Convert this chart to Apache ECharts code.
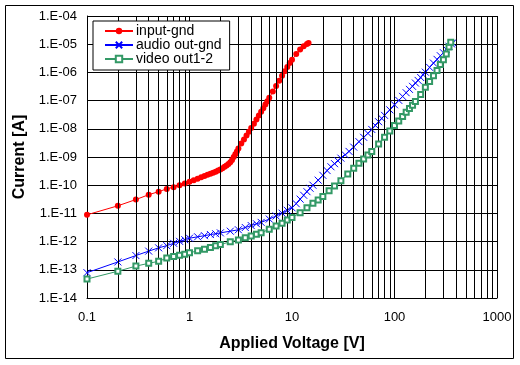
<!DOCTYPE html>
<html><head><meta charset="utf-8">
<script src="https://cdn.jsdelivr.net/npm/echarts@6/dist/echarts.min.js"></script>
<style>html,body{margin:0;padding:0;background:#fff}#c{width:520px;height:365px}</style>
</head><body><div id="c"></div>
<script>
const seriesNames = ['input-gnd', 'audio out-gnd', 'video out1-2'];
const xTickLabels = ['0.1', '1', '10', '100', '1000'];
const yTickLabels = ['1.E-14','1.E-13','1.E-12','1.E-11','1.E-10','1.E-09','1.E-08','1.E-07','1.E-06','1.E-05','1.E-04'];
const xMinorGrid = [0.2,0.3,0.4,0.5,0.6,0.7,0.8,0.9,2,3,4,5,6,7,8,9,20,30,40,50,60,70,80,90,200,300,400,500,600,700,800,900];

const inputX = [0.1,0.2,0.3,0.4,0.5,0.6,0.7,0.8,0.9,1.0,1.1,1.2,1.3,1.4,1.5,1.6,1.7,1.8,1.9,2.0,2.1,2.2,2.3,2.4,2.5,2.6,2.7,2.8,2.9,3.0,3.2,3.4,3.6,3.8,4.0,4.25,4.5,4.75,5.0,5.25,5.5,5.75,6.0,6.5,7.0,7.5,8.0,8.5,9.0,9.5,10,11,12,13,14,14.5];
const inputY = [8.9e-12,1.86e-11,3.1e-11,4.6e-11,5.9e-11,7.4e-11,8.5e-11,1.0e-10,1.15e-10,1.32e-10,1.51e-10,1.7e-10,1.9e-10,2.14e-10,2.34e-10,2.57e-10,2.75e-10,3.0e-10,3.3e-10,3.6e-10,4.0e-10,4.5e-10,5.0e-10,5.6e-10,6.5e-10,7.9e-10,1.0e-9,1.26e-9,1.58e-9,2.0e-9,3.0e-9,4.2e-9,5.8e-9,7.9e-9,1.07e-8,1.51e-8,2.14e-8,2.95e-8,4.0e-8,5.4e-8,7.2e-8,9.5e-8,1.26e-7,2.1e-7,3.3e-7,5.1e-7,7.6e-7,1.1e-6,1.55e-6,2.14e-6,2.8e-6,4.5e-6,6.5e-6,8.5e-6,1.02e-5,1.1e-5];

const audioX = [0.1,0.2,0.3,0.4,0.5,0.6,0.7,0.8,0.9,1.0,1.2,1.4,1.6,1.8,2.0,2.5,3.0,3.5,4.0,4.5,5.0,6.0,7.0,8.0,9.0,10,11,12,13,14,15,16,18,20,22,24,26,28,30,33,36,40,45,50,55,60,65,70,75,80,90,100,110,120,130,140,150,160,170,180,190,200,220,240,260,280,300,320,340,360,370];
const audioY = [7.9e-14,1.9e-13,3.2e-13,4.6e-13,6.0e-13,7.2e-13,8.7e-13,1.02e-12,1.17e-12,1.32e-12,1.48e-12,1.62e-12,1.78e-12,1.9e-12,2.04e-12,2.34e-12,2.63e-12,3.16e-12,3.7e-12,4.3e-12,4.8e-12,6.3e-12,8.1e-12,1.02e-11,1.29e-11,1.58e-11,2.2e-11,3.2e-11,4.4e-11,5.9e-11,7.8e-11,1.0e-10,1.51e-10,2.24e-10,3.3e-10,4.5e-10,5.8e-10,7.4e-10,9.1e-10,1.2e-9,1.58e-9,2.24e-9,3.5e-9,5.0e-9,6.9e-9,9.5e-9,1.32e-8,1.78e-8,2.34e-8,3.0e-8,4.7e-8,7.1e-8,1.02e-7,1.41e-7,1.9e-7,2.5e-7,3.2e-7,4.2e-7,5.2e-7,6.6e-7,8.3e-7,1.02e-6,1.51e-6,2.14e-6,2.9e-6,3.9e-6,5.0e-6,6.6e-6,8.5e-6,1.02e-5,1.12e-5];

const videoX = [0.1,0.2,0.3,0.4,0.5,0.6,0.7,0.8,0.9,1.0,1.2,1.4,1.6,1.8,2.0,2.5,3.0,3.5,4.0,4.5,5.0,6.0,7.0,8.0,9.0,10,12,14,16,18,20,23,26,30,35,40,45,50,55,60,70,80,90,100,110,120,130,140,150,160,180,200,220,240,260,280,300,320,340,354];
const videoY = [4.7e-14,8.9e-14,1.35e-13,1.7e-13,2.0e-13,2.6e-13,2.95e-13,3.3e-13,3.55e-13,4.0e-13,4.7e-13,5.4e-13,6.2e-13,7.1e-13,7.9e-13,9.8e-13,1.15e-12,1.38e-12,1.58e-12,1.82e-12,2.04e-12,2.75e-12,3.55e-12,4.5e-12,5.8e-12,7.2e-12,1.05e-11,1.58e-11,2.3e-11,3.0e-11,4.0e-11,6.3e-11,9.3e-11,1.45e-10,2.5e-10,4.0e-10,6.0e-10,8.5e-10,1.17e-9,1.58e-9,2.9e-9,5.0e-9,8.3e-9,1.32e-8,1.9e-8,2.75e-8,3.9e-8,5.2e-8,6.9e-8,9.3e-8,1.66e-7,2.95e-7,4.8e-7,7.6e-7,1.17e-6,1.9e-6,2.8e-6,4.5e-6,7.9e-6,1.17e-5];

const pair = (xs, ys) => xs.map((x, i) => [x, ys[i]]);
const FONT = 'Liberation Sans, Arial, sans-serif';
const expOf = v => Math.round(Math.log10(v));

const chart = echarts.init(document.getElementById('c'), null, {renderer: 'canvas'});
chart.setOption({
  animation: false,
  backgroundColor: '#fff',
  graphic: [{
    type: 'rect', shape: {x: 5.5, y: 5.5, width: 508, height: 353},
    style: {fill: 'none', stroke: '#000', lineWidth: 1}, silent: true, z: 0
  }],
  grid: {left: 87, top: 16, right: 23, bottom: 67, show: false},
  legend: {
    data: seriesNames,
    orient: 'vertical', left: 93, top: 21,
    backgroundColor: '#fff', borderColor: '#000', borderWidth: 1,
    padding: [3, 8, 4, 11], itemGap: 0, itemWidth: 28, itemHeight: 8,
    textStyle: {fontFamily: FONT, fontSize: 14, color: '#000', lineHeight: 14, padding: [0, 0, 0, -2]},
    z: 10
  },
  xAxis: {
    type: 'log', logBase: 10, min: 0.1, max: 1000, interval: 1, splitNumber: 4,
    name: 'Applied Voltage [V]', nameLocation: 'middle', nameGap: 38,
    nameTextStyle: {fontFamily: FONT, fontSize: 16, fontWeight: 'bold', color: '#000'},
    axisLine: {show: true, lineStyle: {color: '#000', width: 1}},
    axisTick: {show: false},
    axisLabel: {fontFamily: FONT, fontSize: 13, color: '#000', margin: 13,
      formatter: v => xTickLabels[expOf(v) + 1]},
    splitLine: {show: true, lineStyle: {color: '#000', width: 1}},
    minorTick: {show: false}, minorSplitLine: {show: false}
  },
  yAxis: {
    type: 'log', logBase: 10, min: 1e-14, max: 1e-4, interval: 1, splitNumber: 10,
    name: 'Current [A]', nameLocation: 'middle', nameGap: 56,
    nameTextStyle: {fontFamily: FONT, fontSize: 16, fontWeight: 'bold', color: '#000'},
    axisLine: {show: true, lineStyle: {color: '#000', width: 1}},
    axisTick: {show: false},
    axisLabel: {fontFamily: FONT, fontSize: 13, color: '#000', margin: 10,
      formatter: v => yTickLabels[expOf(v) + 14]},
    splitLine: {show: true, lineStyle: {color: '#000', width: 1}}
  },
  series: [
    {
      name: '_grid', type: 'line', data: [], z: 1, silent: true,
      markLine: {
        silent: true, symbol: ['none', 'none'], animation: false,
        label: {show: false},
        lineStyle: {color: '#000', width: 1, type: 'solid'},
        emphasis: {disabled: true},
        data: xMinorGrid.map(v => ({xAxis: v}))
      }
    },
    {
      name: seriesNames[0], type: 'line', data: pair(inputX, inputY), z: 3,
      symbol: 'circle', symbolSize: 6,
      lineStyle: {color: '#ff0000', width: 1},
      itemStyle: {color: '#ff0000'}
    },
    {
      name: seriesNames[1], type: 'line', data: pair(audioX, audioY), z: 4,
      symbol: 'path://M0,0L10,10M0,10L10,0', symbolSize: 7,
      lineStyle: {color: '#0000ff', width: 1},
      itemStyle: {color: '#0000ff', borderColor: '#0000ff', borderWidth: 1}
    },
    {
      name: seriesNames[2], type: 'line', data: pair(videoX, videoY), z: 5,
      symbol: 'emptyRect', symbolSize: 5,
      lineStyle: {color: '#339966', width: 1},
      itemStyle: {color: '#339966', borderWidth: 1}
    }
  ]
});
</script>
</body></html>
